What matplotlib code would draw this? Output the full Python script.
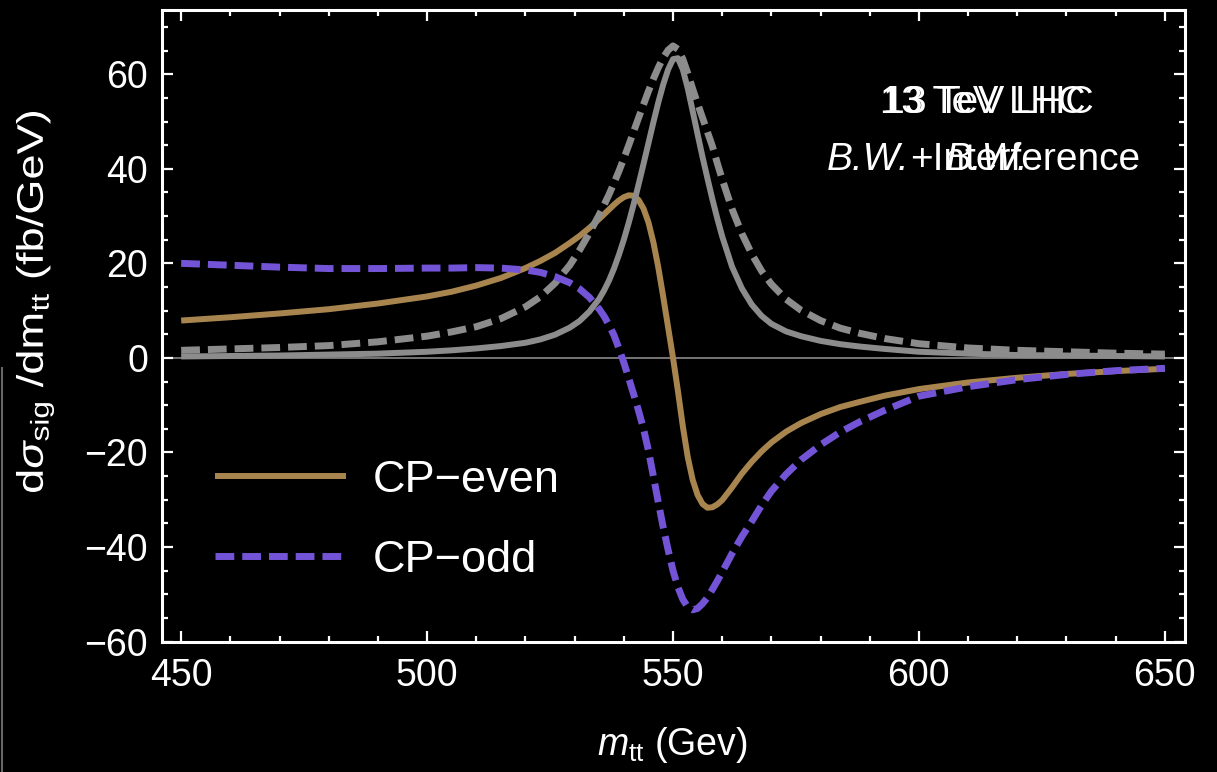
import matplotlib
matplotlib.use("Agg")
import matplotlib.pyplot as plt
from matplotlib.lines import Line2D
from matplotlib.ticker import MultipleLocator
from matplotlib.textpath import TextPath
from matplotlib.patches import PathPatch
from matplotlib.font_manager import FontProperties
from matplotlib.transforms import Affine2D, IdentityTransform

plt.rcParams['font.family'] = ['Liberation Sans', 'DejaVu Sans']
plt.rcParams['mathtext.fontset'] = 'custom'
plt.rcParams['mathtext.rm'] = 'Liberation Sans'
plt.rcParams['mathtext.it'] = 'Liberation Sans:italic'
plt.rcParams['mathtext.bf'] = 'Liberation Sans:bold'

## invariant mass grid (GeV)
mtt = [450, 460, 470, 480, 490, 500, 505, 510, 515, 520,
       523, 526, 529, 531, 533, 535,
       536, 537, 538, 539, 540, 541, 542, 543, 544, 545, 546, 547, 548,
       549, 550, 551, 552, 553, 554, 555, 556, 557, 558, 559, 560,
       562, 564, 566, 568, 570,
       573, 576, 580, 584, 588, 593, 600,
       610, 620, 630, 640, 650]

## pure Breit-Wigner, CP-even (grey solid)
bw_even = [0.3, 0.4, 0.5, 0.7, 0.9, 1.3, 1.6, 2.0, 2.5, 3.2,
           3.9, 4.9, 6.4, 7.8, 9.8, 12.5,
           14.3, 16.4, 18.9, 21.8, 25.0, 28.6, 32.5, 36.7, 41.0, 45.4, 49.8, 54.0, 57.8,
           61.0, 63.2, 63.4, 61.0, 57.0, 52.2, 47.3, 42.5, 38.0, 33.6, 29.5, 25.7,
           19.3, 14.7, 11.3, 8.9, 7.2,
           5.6, 4.6, 3.6, 2.9, 2.4, 1.9, 1.3,
           0.9, 0.6, 0.5, 0.4, 0.3]

## pure Breit-Wigner, CP-odd (grey dashed)
bw_odd = [1.6, 1.9, 2.2, 2.6, 3.4, 4.6, 5.5, 6.6, 8.3, 10.8,
          12.9, 15.8, 19.6, 22.8, 26.4, 30.3,
          32.4, 34.6, 37.0, 39.5, 42.2, 45.0, 47.9, 50.8, 53.6, 56.4, 59.0, 61.4, 63.5,
          65.1, 66.0, 65.3, 63.2, 60.2, 56.9, 53.8, 50.8, 47.8, 44.8, 41.2, 37.8,
          31.5, 26.3, 22.0, 18.4, 15.6,
          12.4, 10.1, 7.9, 6.3, 5.2, 4.1, 3.0,
          2.1, 1.6, 1.3, 1.0, 0.8]

## B.W. + interference, CP-even
int_even = [7.9, 8.6, 9.4, 10.3, 11.5, 13.0, 14.0, 15.3, 16.9, 19.0,
            20.5, 22.2, 24.3, 25.8, 27.5, 29.4,
            30.4, 31.4, 32.4, 33.3, 34.0, 34.4, 34.3, 33.4, 31.6, 28.7, 24.5, 19.2, 13.0,
            6.5, 0.0, -7.0, -14.5, -21.0, -25.8, -29.0, -30.9, -31.7, -31.6, -31.0, -30.1,
            -27.4, -24.5, -22.0, -19.8, -17.9,
            -15.6, -13.8, -11.9, -10.4, -9.3, -8.0, -6.6,
            -5.2, -4.2, -3.4, -2.8, -2.3]

## B.W. + interference, CP-odd
int_odd = [20.0, 19.6, 19.2, 18.9, 18.9, 19.0, 19.0, 19.1, 19.0, 18.6,
           18.1, 17.2, 15.9, 14.6, 12.8, 10.3,
           8.8, 6.9, 4.8, 2.0, -1.0, -4.3, -7.7, -11.2, -15.0, -19.6, -25.0, -30.5, -35.8,
           -40.6, -45.0, -48.5, -51.1, -52.7, -53.3, -53.0, -52.0, -50.7, -49.0, -47.2, -45.3,
           -41.4, -37.8, -34.6, -31.2, -28.2,
           -24.6, -21.6, -18.4, -15.7, -13.5, -11.1, -8.1,
           -6.1, -4.6, -3.5, -2.7, -2.2]

tan = '#a8854f'
purple = '#7354d7'
grey = '#8c8c8c'

W, H = 1217, 772
fig = plt.figure(figsize=(W / 100, H / 100), dpi=100, facecolor='black')
ax = fig.add_axes([162 / W, 1 - 641.5 / H, (1185 - 162) / W, (641.5 - 10) / H])
ax.set_facecolor('black')

ax.axhline(0, color='#8a8a8a', lw=1.2, zorder=1)
ax.plot(mtt, int_even, color=tan, lw=4.3, solid_capstyle='butt', zorder=2, label='CP\u2212even')
ax.plot(mtt, bw_even, color=grey, lw=4.3, solid_capstyle='butt', zorder=3)
ax.plot(mtt, bw_odd, color=grey, lw=5, dashes=(2.7, 1.15), zorder=3)
ax.plot(mtt, int_odd, color=purple, lw=5, dashes=(2.7, 1.15), zorder=4, label='CP\u2212odd')

ax.set_xlim(446.1, 654.1)
ax.set_ylim(-60, 73.6)
ax.xaxis.set_major_locator(MultipleLocator(50))
ax.xaxis.set_minor_locator(MultipleLocator(10))
ax.yaxis.set_major_locator(MultipleLocator(20))
ax.yaxis.set_minor_locator(MultipleLocator(5))

for s in ax.spines.values():
    s.set_color('white')
    s.set_linewidth(2.2)
ax.tick_params(which='both', direction='in', colors='white', top=True, right=True, width=1.6)
ax.tick_params(which='major', length=8, labelsize=27)
ax.tick_params(which='minor', length=4.5)
ax.tick_params(axis='x', pad=12)
ax.tick_params(axis='y', pad=10)

fig.text(672 / W, 1 - 745 / H, r'$m_{\rm tt}$ (Gev)', color='white', fontsize=27,
         ha='center', va='center')

# y label as a path, stretched a little along its length
ylab = TextPath((0, 0), r'd$\sigma_{\rm sig}$ /dm$_{\rm tt}$ (fb/GeV)', size=37,
                prop=FontProperties(family='Liberation Sans'))
ext = ylab.get_extents()
tr = (Affine2D().translate(-(ext.x0 + ext.x1) / 2, -(ext.y0 + ext.y1) / 2)
      .scale(380 / ext.width, 1).rotate_deg(90).translate(35, H - 302))
fig.add_artist(PathPatch(tr.transform_path(ylab), facecolor='white', lw=0,
                         transform=IdentityTransform()))

## plot labels, drawn twice over each other
fig.text(983 / W, 1 - 103 / H, '13 TeV LHC', color='white', fontsize=27.5, ha='center', va='center')
fig.text(988 / W, 1 - 103 / H, '13 TeV LHC', color='white', fontsize=28.3, ha='center', va='center')
bw = fig.text(827 / W, 1 - 160 / H, 'B.W.', color='white', fontsize=28, style='italic',
              ha='left', va='center')
ax.annotate('+Interference', xy=(1, 0.5), xycoords=bw, color='white', fontsize=28,
            ha='left', va='center', annotation_clip=False)
fig.text(987 / W, 1 - 160 / H, 'B.W.', color='white', fontsize=28, style='italic',
         ha='center', va='center')

leg = ax.legend(loc='upper left', bbox_to_anchor=(215 / W, 1 - 460 / H),
                bbox_transform=fig.transFigure, frameon=False, fontsize=32.5,
                handlelength=2.9, handletextpad=0.6, labelspacing=0.87,
                borderpad=0, borderaxespad=0)
for t in leg.get_texts():
    t.set_color('white')

## thin grey edge on the far left
fig.add_artist(Line2D([1.5 / W, 1.5 / W], [0, 1 - 368 / H], transform=fig.transFigure,
                      color='#666666', lw=1.5))

fig.savefig('out.png', dpi=100, facecolor='black')
